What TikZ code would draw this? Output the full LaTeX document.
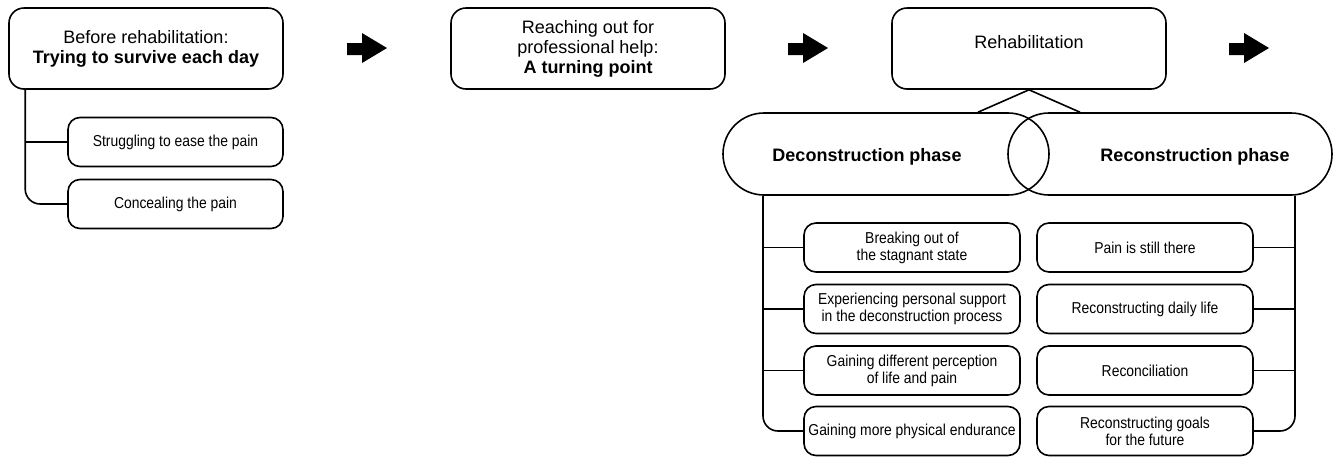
\documentclass[tikz,border=0pt]{standalone}
\usepackage{fontspec}
\setmainfont{Liberation Sans}
\newfontfamily\narrowfont[FakeStretch=0.88]{Liberation Sans}
\usetikzlibrary{shapes.misc}
\begin{document}
\begin{tikzpicture}[x=1pt,y=-1pt, line width=1.6pt,
 mainbox/.style={draw, rounded corners=15pt, minimum width=274pt, minimum height=81pt, align=center, font=\fontsize{18}{20}\selectfont, inner sep=0pt},
 subbox/.style={draw, rounded corners=12pt, minimum width=215pt, minimum height=49pt, align=center, font=\narrowfont\fontsize{15.8}{17}\selectfont, inner sep=0pt},
 pill/.style={draw, rounded rectangle, minimum width=326pt, minimum height=82pt, inner sep=0pt},
 pilltext/.style={font=\fontsize{18}{20}\selectfont\bfseries, inner sep=0pt},
 blockarrow/.style={fill=black, draw=none}]
\useasboundingbox (0,0) rectangle (1333,456);

% main boxes
\node[mainbox] (before) at (146,48.5) {Before rehabilitation:\\\textbf{Trying to survive each day}};
\node[mainbox] (help) at (588,48.5) {Reaching out for\\professional help:\\\textbf{A turning point}};
\node[mainbox] (rehab) at (1029,48.5) {\raisebox{13pt}{Rehabilitation}};

% block arrows
\fill[blockarrow] (347,43) -- (362,43) -- (362,33) -- (387,48) -- (362,63) -- (362,55) -- (347,55) -- cycle;
\fill[blockarrow] (788,43) -- (803,43) -- (803,33) -- (828,48) -- (803,63) -- (803,55) -- (788,55) -- cycle;
\fill[blockarrow] (1229,43) -- (1244,43) -- (1244,33) -- (1269,48) -- (1244,63) -- (1244,55) -- (1229,55) -- cycle;

% before rehabilitation sub boxes
\node[subbox] (strug) at (175.5,142) {Struggling to ease the pain};
\node[subbox] (conceal) at (175.5,204) {Concealing the pain};
\coordinate (bt) at ([xshift=17pt]before.south west);
\draw[rounded corners=15pt] (bt) |- (conceal.west);
\draw (bt |- strug.west) -- (strug.west);

% phase pills
\node[pill] (decon) at (886,154) {};
\node[pill, minimum width=324pt] (recon) at (1170,154) {};
\node[pilltext] (dect) at (867,157) {Deconstruction phase};
\node[pilltext] (rect) at (1195,157) {Reconstruction phase};
\draw (rehab.south) -- ([xshift=92pt]decon.north);
\draw (rehab.south) -- ([xshift=-90pt]recon.north);

% deconstruction sub boxes
\node[subbox, minimum width=216pt] (d1) at (912,247.5) {Breaking out of\\the stagnant state};
\node[subbox, minimum width=216pt] (d2) at (912,309) {Experiencing personal support\\in the deconstruction process};
\node[subbox, minimum width=216pt] (d3) at (912,370.5) {Gaining different perception\\of life and pain};
\node[subbox, minimum width=216pt] (d4) at (912,431) {Gaining more physical endurance};
\coordinate (dt) at ([xshift=-123pt]decon.south);
\draw[rounded corners=15pt] (dt) |- (d4.west);
\draw (dt |- d1.west) -- (d1.west);
\draw (dt |- d2.west) -- (d2.west);
\draw (dt |- d3.west) -- (d3.west);

% reconstruction sub boxes
\node[subbox, minimum width=216pt] (r1) at (1145,247.5) {Pain is still there};
\node[subbox, minimum width=216pt] (r2) at (1145,309) {Reconstructing daily life};
\node[subbox, minimum width=216pt] (r3) at (1145,370.5) {Reconciliation};
\node[subbox, minimum width=216pt] (r4) at (1145,431) {Reconstructing goals\\for the future};
\coordinate (rt) at ([xshift=125pt]recon.south);
\draw[rounded corners=15pt] (rt) |- (r4.east);
\draw (r1.east) -- (r1.east -| rt);
\draw (r2.east) -- (r2.east -| rt);
\draw (r3.east) -- (r3.east -| rt);
\end{tikzpicture}
\end{document}
